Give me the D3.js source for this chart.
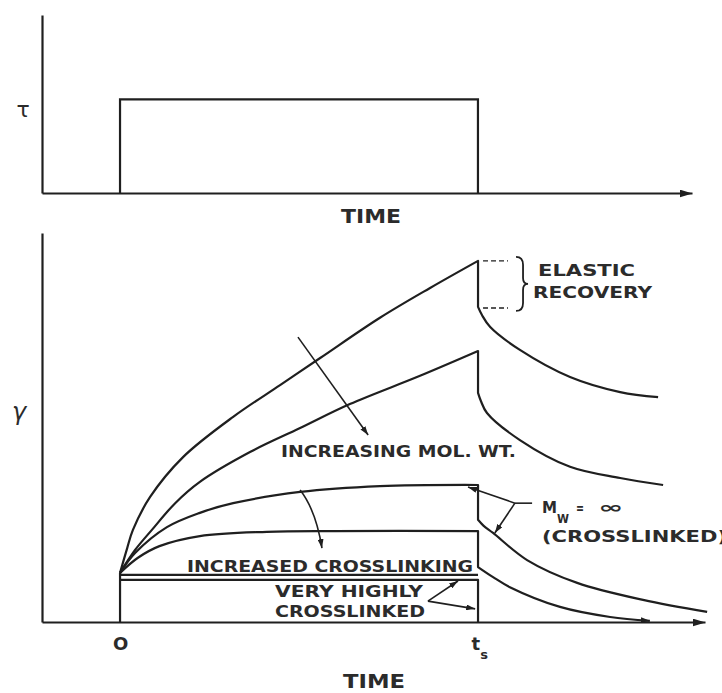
<!DOCTYPE html>
<html>
<head>
<meta charset="utf-8">
<script src="https://cdn.jsdelivr.net/npm/d3@7"></script>
<style>
  html, body { margin: 0; padding: 0; background: #fff; }
  svg { display: block; }
  .lbl { font-family: "DejaVu Sans", sans-serif; font-weight: bold; fill: #2b2b2b; }
</style>
</head>
<body>
<svg id="chart" width="722" height="693"></svg>
<script>
// ---- Data (time in units of t_s, strain γ and stress τ in arbitrary units) ----
const stressPulse = [[0, 0], [0, 1], [1, 1], [1, 0]];

// creep under load, then recovery after the load is removed at t_s
const lowMwCreep      = [[0,12.7],[0.02,19.1],[0.036,23.8],[0.084,32.3],[0.176,42.6],[0.316,53.0],[0.447,61.2],[0.559,68.2],[0.726,78.6],[0.866,86.3],[1,93.3]];
const lowMwRecovery   = [[1,81.4],[1.011,79.3],[1.034,76.2],[1.117,70.3],[1.257,63.3],[1.397,59.4],[1.503,58.1]];
const highMwCreep     = [[0,12.7],[0.042,18.6],[0.089,23.8],[0.154,30.7],[0.223,36.2],[0.363,43.9],[0.503,50.1],[0.642,56.3],[0.838,63.6],[1,70.0]];
const highMwRecovery  = [[1,59.2],[1.008,57.1],[1.025,54.0],[1.117,47.0],[1.257,40.1],[1.397,37.2],[1.517,35.4]];
const lightXlinkCreep    = [[0,12.7],[0.042,17.8],[0.131,24.5],[0.223,28.2],[0.316,30.7],[0.503,33.6],[0.726,35.1],[1,35.4]];
const lightXlinkRecovery = [[1,26.4],[1.015,24.9],[1.042,23.0],[1.137,16.0],[1.277,10.1],[1.461,5.7],[1.64,2.6]];
const midXlinkCreep      = [[0,12.7],[0.05,16.6],[0.11,19.6],[0.223,22.2],[0.41,23.3],[0.6,23.5],[1,23.5]];
const midXlinkRecovery   = [[1,14.2],[1.042,11.6],[1.089,9.0],[1.229,3.9],[1.369,1.3],[1.48,0.3]];
const veryHighXlink      = [[0,12.7],[0,0],[0,10.9],[1,10.9],[1,0]];
const instantStrain      = [[0,12.2],[1,12.2]];

const timeTicks = [0, 1];

// annotation anchors in (t, γ)
const molWtArrow   = [[0.497,73.6],[0.693,48.3]];
const xlinkArrow   = [[0.503,34.1],[0.547,28.9],[0.564,19.1]];
const mwJunction   = [1.103,30.7];
const mwTickEnd    = [1.151,30.7];
const mwTargets    = [[0.972,34.9],[1.047,23.0]];
const vhxStart     = [0.860,5.4];
const vhxTargets   = [[0.944,10.6],[0.992,3.4]];

// ---- Layout ----
const svg = d3.select("#chart");
const ink = "#1f1f1f";

const xTop = d3.scaleLinear().domain([-0.218, 1.598]).range([42, 692]);
const yTop = d3.scaleLinear().domain([0, 1.9]).range([193, 15]);
const xBot = d3.scaleLinear().domain([-0.218, 1.634]).range([42, 705]);
const yBot = d3.scaleLinear().domain([0, 100.5]).range([622, 233]);

const defs = svg.append("defs");
function arrowMarker(id, len, wid) {
  defs.append("marker")
    .attr("id", id).attr("viewBox", `0 0 ${len} ${wid}`)
    .attr("refX", len).attr("refY", wid / 2)
    .attr("markerWidth", len).attr("markerHeight", wid)
    .attr("markerUnits", "userSpaceOnUse").attr("orient", "auto")
    .append("path").attr("d", `M0,0L${len},${wid/2}L0,${wid}Z`).attr("fill", ink);
}
arrowMarker("axisHead", 13, 8);
arrowMarker("head", 9, 6);

// ---- Axes ----
function drawAxes(g, x, y) {
  g.append("g")
    .attr("transform", `translate(0,${y(0)})`)
    .call(d3.axisBottom(x).tickValues([]).tickSizeOuter(0))
    .call(a => a.select(".domain").attr("stroke", ink).attr("stroke-width", 2.2)
      .attr("marker-end", "url(#axisHead)"));
  g.append("g")
    .attr("transform", `translate(${x.range()[0]},0)`)
    .call(d3.axisLeft(y).tickValues([]).tickSizeOuter(0))
    .call(a => a.select(".domain").attr("stroke", ink).attr("stroke-width", 2.2));
}

const stressPanel = svg.append("g");
drawAxes(stressPanel, xTop, yTop);
const strainPanel = svg.append("g");
drawAxes(strainPanel, xBot, yBot);

// time ticks labelled 0 and t_s on the strain panel
const tickG = strainPanel.append("g").attr("transform", `translate(0,${yBot(0)})`)
  .call(d3.axisBottom(xBot).tickValues(timeTicks).tickSize(0).tickPadding(12).tickFormat(() => ""));
tickG.select(".domain").remove();
tickG.selectAll(".tick text").each(function(d) {
  const t = d3.select(this).attr("class", "lbl").attr("fill", null)
    .attr("font-size", 18).attr("dy", "0.9em").style("font-weight", "600");
  if (d === 0) { t.text("O"); }
  else {
    t.attr("text-anchor", "start").attr("dx", -7).text("t");
    t.append("tspan").attr("font-size", 13).attr("dy", 9).text("s");
  }
});

// ---- Stress pulse ----
stressPanel.append("path").datum(stressPulse)
  .attr("d", d3.line().x(d => xTop(d[0])).y(d => yTop(d[1])))
  .attr("fill", "none").attr("stroke", ink).attr("stroke-width", 2.2);

// ---- Strain curves ----
const smooth = d3.line().x(d => xBot(d[0])).y(d => yBot(d[1])).curve(d3.curveCatmullRom.alpha(0.5));
const straight = d3.line().x(d => xBot(d[0])).y(d => yBot(d[1]));

function response(creep, recovery) {
  const peak = creep[creep.length - 1], start = recovery[0];
  return smooth(creep) + straight([peak, start]).replace("M", "L") + smooth(recovery).replace(/^M[^LC]*/, "");
}

const curves = strainPanel.append("g").attr("fill", "none").attr("stroke", ink)
  .attr("stroke-width", 2.2).attr("stroke-linejoin", "round");
curves.append("path").attr("d", response(lowMwCreep, lowMwRecovery));
curves.append("path").attr("d", response(highMwCreep, highMwRecovery));
curves.append("path").attr("d", response(lightXlinkCreep, lightXlinkRecovery));
curves.append("path").attr("d", response(midXlinkCreep, midXlinkRecovery)).attr("marker-end", "url(#head)");
curves.append("path").attr("d", straight(veryHighXlink));
curves.append("path").attr("d", straight(instantStrain));

// ---- Elastic recovery bracket ----
const peakY = yBot(lowMwCreep[lowMwCreep.length - 1][1]);
const dropY = yBot(lowMwRecovery[0][1]);
const bx = xBot(1);
const ann = strainPanel.append("g").attr("fill", "none").attr("stroke", ink);
ann.append("path")
  .attr("d", `M${bx + 5},${peakY}H${bx + 30}M${bx + 5},${dropY + 1}H${bx + 30}`)
  .attr("stroke-width", 1.4).attr("stroke-dasharray", "5,3");
const bxr = bx + 38, mid = (peakY + dropY) / 2;
ann.append("path")
  .attr("d", `M${bxr},${peakY - 4}Q${bxr + 7},${peakY - 4} ${bxr + 7},${peakY + 4}V${mid - 6}Q${bxr + 7},${mid} ${bxr + 12},${mid}` +
             `Q${bxr + 7},${mid} ${bxr + 7},${mid + 6}V${dropY - 4}Q${bxr + 7},${dropY + 4} ${bxr},${dropY + 4}`)
  .attr("stroke-width", 1.8);

// ---- Arrows ----
const pt = d => [xBot(d[0]), yBot(d[1])];
ann.append("path").attr("d", d3.line()(molWtArrow.map(pt)))
  .attr("stroke-width", 1.6).attr("marker-end", "url(#head)");
{
  const [a, c, b] = xlinkArrow.map(pt);
  ann.append("path").attr("d", `M${a}Q${c} ${b}`).attr("stroke-width", 1.6).attr("marker-end", "url(#head)");
}
ann.append("path").attr("d", d3.line()([mwJunction, mwTickEnd].map(pt))).attr("stroke-width", 1.6);
mwTargets.forEach(tg => {
  ann.append("path").attr("d", d3.line()([mwJunction, tg].map(pt)))
    .attr("stroke-width", 1.6).attr("marker-end", "url(#head)");
});
vhxTargets.forEach(tg => {
  ann.append("path").attr("d", d3.line()([vhxStart, tg].map(pt)))
    .attr("stroke-width", 1.6).attr("marker-end", "url(#head)");
});

// ---- Text ----
function label(x, y, s, size, width, anchor) {
  const t = svg.append("text").attr("class", "lbl").attr("x", x).attr("y", y)
    .attr("font-size", size).text(s);
  if (anchor) t.attr("text-anchor", anchor);
  if (width) t.attr("textLength", width).attr("lengthAdjust", "spacingAndGlyphs");
  return t;
}
label(23, 117, "τ", 22, null, "middle").style("font-weight", "normal").attr("font-family", "DejaVu Serif");
label(19, 420, "γ", 24, null, "middle").style("font-weight", "normal").attr("font-family", "DejaVu Serif").style("font-style", "italic");
label(341, 223, "TIME", 19, 60).style("font-weight", "600");
label(343, 688, "TIME", 19, 62).style("font-weight", "600");

label(538, 276, "ELASTIC", 16, 97);
label(533, 298, "RECOVERY", 16, 119);
label(281, 457, "INCREASING MOL. WT.", 16, 235);
label(187, 572, "INCREASED CROSSLINKING", 16, 286);
label(275, 597, "VERY HIGHLY", 16, 148);
label(275, 617, "CROSSLINKED", 16, 150);
label(542, 513, "M", 16, 15);
label(557, 523, "W", 12, 12);
label(576, 513, "=", 14, 8);
label(598, 513, "∞", 16, 25);
label(542, 542, "(CROSSLINKED)", 16, 185);
</script>
</body>
</html>
